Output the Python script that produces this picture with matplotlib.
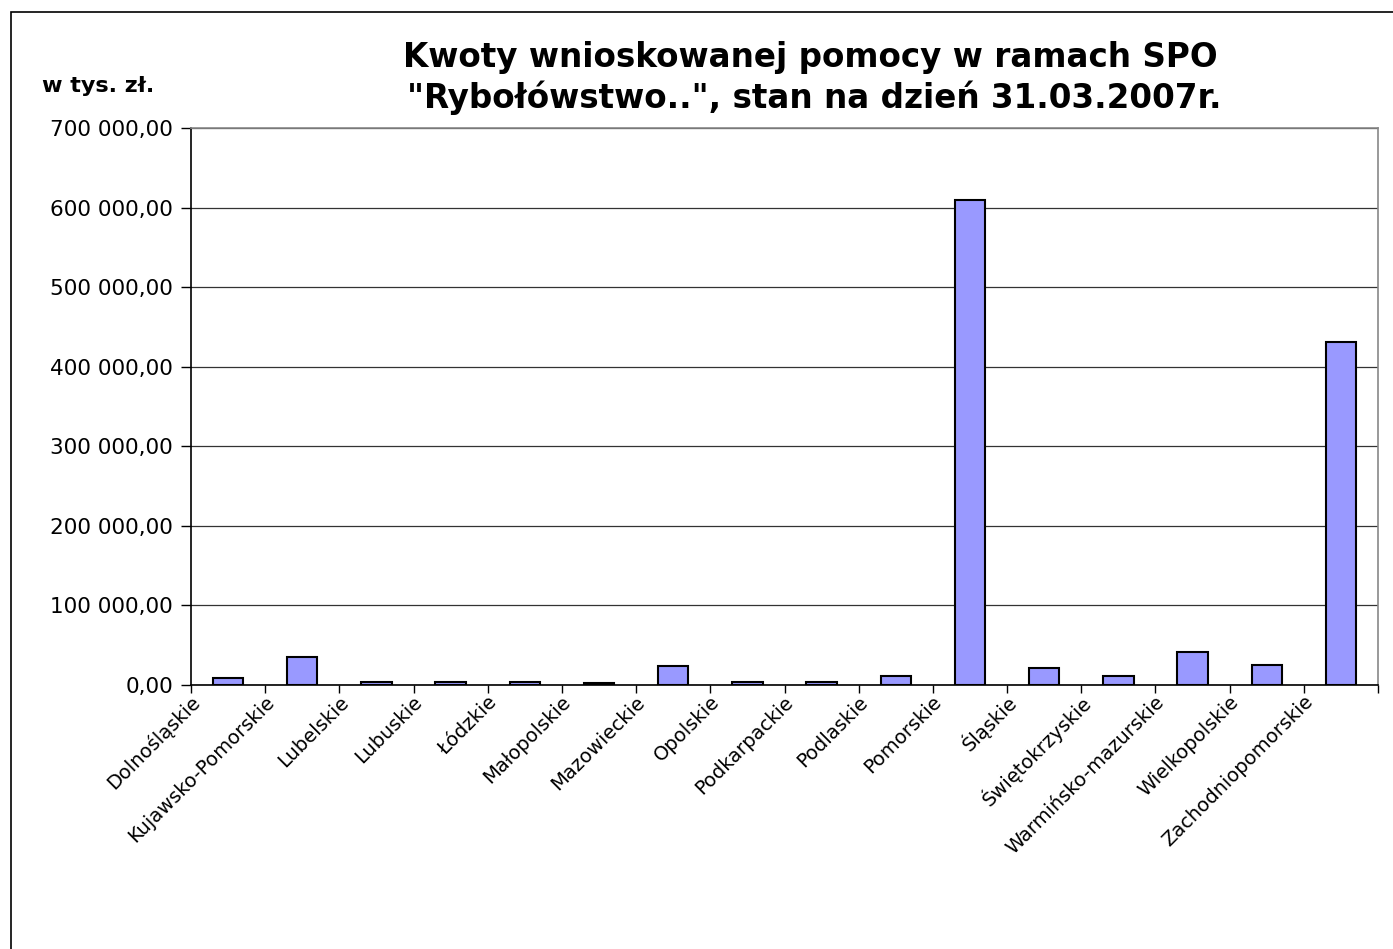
#!/usr/bin/env python3
"""Kwoty wnioskowanej pomocy w ramach SPO "Rybołówstwo..", stan na 31.03.2007."""

import matplotlib
matplotlib.use("Agg")
import matplotlib.pyplot as plt
import matplotlib.transforms as mtransforms
from matplotlib.patches import Rectangle
from matplotlib.ticker import FuncFormatter, MultipleLocator

plt.rcParams['font.family'] = ['DejaVu Sans']

# Data (thousand PLN)
regions = ['Dolnośląskie', 'Kujawsko-Pomorskie', 'Lubelskie', 'Lubuskie', 'Łódzkie',
           'Małopolskie', 'Mazowieckie', 'Opolskie', 'Podkarpackie', 'Podlaskie',
           'Pomorskie', 'Śląskie', 'Świętokrzyskie', 'Warmińsko-mazurskie',
           'Wielkopolskie', 'Zachodniopomorskie']
amounts = [8800, 35000, 4000, 4000, 4000,
           2000, 23300, 4000, 4000, 11700,
           610000, 20800, 11700, 41800,
           25500, 430500]

W, H = 1393, 949
fig = plt.figure(figsize=(W / 100, H / 100), dpi=100)

# outer chart border (runs off the right and bottom of the image)
fig.add_artist(Rectangle((11 / W, -0.05), 1.0, 1 - 12 / H + 0.05,
                         transform=fig.transFigure, fill=False,
                         edgecolor='black', linewidth=1.2))

# plot area in pixels: left 191, right 1378, top 128, bottom 685
ax = fig.add_axes([191 / W, 1 - 685 / H, (1378 - 191) / W, (685 - 128) / H])

x = list(range(len(regions)))
ax.bar(x, amounts, width=0.41, color='#9999FF', edgecolor='black',
       linewidth=1.5, zorder=3)

ax.set_xlim(-0.5, len(regions) - 0.5)
ax.set_ylim(0, 700000)
ax.yaxis.set_major_locator(MultipleLocator(100000))
ax.yaxis.set_major_formatter(FuncFormatter(
    lambda v, p: f"{v:,.2f}".replace(',', ' ').replace('.', ',')))
ax.grid(axis='y', color='#333333', linewidth=0.9, zorder=0)

ax.set_xticks(x)
ax.set_xticklabels(regions, rotation=45, ha='right', va='center',
                   rotation_mode='anchor', fontsize=14)
ax.set_xticks([i - 0.5 for i in range(len(regions) + 1)], minor=True)
ax.tick_params(axis='x', which='major', length=0, pad=0)
ax.tick_params(axis='x', which='minor', length=6, width=1, direction='out')
ax.tick_params(axis='y', length=7, width=1, direction='out', labelsize=15.5, pad=6)

shift = mtransforms.ScaledTranslation(-31 / 100, -14 / 100, fig.dpi_scale_trans)
for lbl in ax.get_xticklabels():
    lbl.set_transform(lbl.get_transform() + shift)

for side in ['top', 'right']:
    ax.spines[side].set_color('#888888')
    ax.spines[side].set_linewidth(1.2)
for side in ['left', 'bottom']:
    ax.spines[side].set_color('black')
    ax.spines[side].set_linewidth(1.2)

fig.text(810 / W, 1 - 58 / H, 'Kwoty wnioskowanej pomocy w ramach SPO',
         ha='center', va='center', fontsize=23.5, fontweight='bold')
fig.text(814 / W, 1 - 98 / H, '"Rybołówstwo..", stan na dzień 31.03.2007r.',
         ha='center', va='center', fontsize=23.5, fontweight='bold')
fig.text(42 / W, 1 - 86 / H, 'w tys. zł.', ha='left', va='center',
         fontsize=16, fontweight='bold')

fig.savefig('out.png', dpi=100, facecolor='white')
plt.close(fig)
